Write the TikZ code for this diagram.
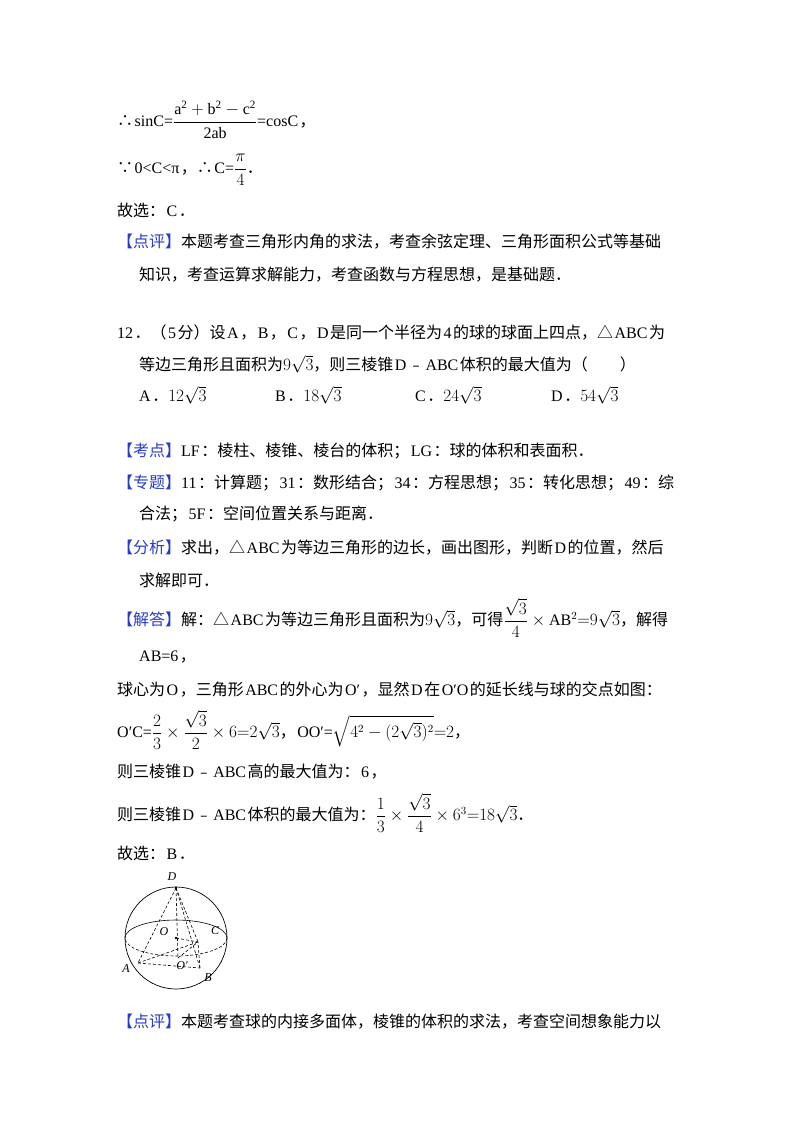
\documentclass[tikz,border=0pt]{standalone}
\usepackage{amsmath}
\usepackage{fontspec}
\setmainfont{Liberation Serif}
\newfontfamily\cjk{Noto Sans CJK SC}
\XeTeXinterchartokenstate=1
\newXeTeXintercharclass\CJKc
\count255="3000 \loop \XeTeXcharclass\count255=\CJKc \ifnum\count255<"9FFF \advance\count255 1 \repeat
\count255="FE30 \loop \XeTeXcharclass\count255=\CJKc \ifnum\count255<"FFEF \advance\count255 1 \repeat
\XeTeXcharclass"25B3=\CJKc
\XeTeXcharclass"2234=\CJKc
\XeTeXcharclass"2235=\CJKc
\XeTeXinterchartoks 0 \CJKc = {\hskip1.5pt\begingroup\cjk}
\XeTeXinterchartoks 4095 \CJKc = {\begingroup\cjk}
\XeTeXinterchartoks \CJKc 0 = {\endgroup\hskip1.5pt}
\XeTeXinterchartoks \CJKc 4095 = {\endgroup}
\definecolor{tagblue}{RGB}{40,60,200}
\newcommand{\tg}[1]{\textcolor{tagblue}{#1}}
\begin{document}
\begin{tikzpicture}[x=1pt,y=-1pt,
  ln/.style={anchor=west,inner sep=0pt,font=\fontsize{16}{18}\selectfont},
  lbl/.style={inner sep=0pt,font=\fontsize{12}{12}\selectfont\itshape},
  dl/.style={dashed,dash pattern=on 3pt off 2pt,line width=0.6pt}]
\useasboundingbox (0,0) rectangle (800,1132);
\fill[white] (0,0) rectangle (800,1132);
\node[ln] (l1) at (117,120) {∴sinC=$\dfrac{\mathrm{a^2+b^2-c^2}}{\mathrm{2ab}}$=cosC，};
\node[ln] (l2) at (117,170) {∵0<C<π，∴C=$\dfrac{\pi}{4}$．};
\node[ln] (l3) at (117,210) {故选：C．};
\node[ln] (l4) at (117,242) {\tg{【点评】}本题考查三角形内角的求法，考查余弦定理、三角形面积公式等基础};
\node[ln] (l5) at (139,275) {知识，考查运算求解能力，考查函数与方程思想，是基础题．};
\node[ln] (l6) at (117,333) {12．（5分）设A，B，C，D是同一个半径为4的球的球面上四点，△ABC为};
\node[ln] (l7) at (139,364) {等边三角形且面积为$9\sqrt{3}$，则三棱锥D﹣ABC体积的最大值为（　　）};
\node[ln] (oA) at (139,395) {A．$12\sqrt{3}$};
\node[ln] (oB) at (275,395) {B．$18\sqrt{3}$};
\node[ln] (oC) at (415,395) {C．$24\sqrt{3}$};
\node[ln] (oD) at (551,395) {D．$54\sqrt{3}$};
\node[ln] (l8) at (117,451) {\tg{【考点】}LF：棱柱、棱锥、棱台的体积；LG：球的体积和表面积．};
\node[ln] (l9) at (117,483) {\tg{【专题】}11：计算题；31：数形结合；34：方程思想；35：转化思想；49：综};
\node[ln] (l10) at (139,514) {合法；5F：空间位置关系与距离．};
\node[ln] (l11) at (117,548) {\tg{【分析】}求出，△ABC为等边三角形的边长，画出图形，判断D的位置，然后};
\node[ln] (l12) at (139,580) {求解即可．};
\node[ln] (l13) at (117,618) {\tg{【解答】}解：△ABC为等边三角形且面积为$9\sqrt{3}$，可得$\dfrac{\sqrt{3}}{4}\times\mathrm{AB}^2{=}9\sqrt{3}$，解得};
\node[ln] (l14) at (139,657) {AB=6，};
\node[ln] (l15) at (117,690) {球心为O，三角形ABC的外心为O′，显然D在O′O的延长线与球的交点如图：};
\node[ln] (l16) at (117,730) {O′C=$\dfrac{2}{3}\times\dfrac{\sqrt{3}}{2}\times6{=}2\sqrt{3}$，OO′=$\sqrt{4^2-(2\sqrt{3})^2}{=}2$，};
\node[ln] (l17) at (117,772) {则三棱锥D﹣ABC高的最大值为：6，};
\node[ln] (l18) at (117,813) {则三棱锥D﹣ABC体积的最大值为：$\dfrac{1}{3}\times\dfrac{\sqrt{3}}{4}\times6^3{=}18\sqrt{3}$．};
\node[ln] (l19) at (117,853) {故选：B．};
\node[ln] (l20) at (117,1022) {\tg{【点评】}本题考查球的内接多面体，棱锥的体积的求法，考查空间想象能力以};
% figure
\coordinate (O) at (176,938);
\coordinate (D) at (176,888);
\coordinate (A) at (138,963);
\coordinate (B) at (200,968);
\coordinate (C) at (198,942);
\coordinate (Op) at (178,958);
\draw[line width=0.7pt] (O) circle (51);
\draw[line width=0.6pt] (125,938) arc (180:360:51 and 18);
\draw[dl] (227,938) arc (0:180:51 and 18);
\fill (O) circle (1.3); \fill (D) circle (1.3);
\draw[dl] (D) -- (A); \draw[dl] (D) -- (B); \draw[dl] (D) -- (C); \draw[dl] (D) -- (Op);
\draw[dl] (A) -- (B); \draw[dl] (A) -- (C); \draw[dl] (B) -- (C);
\draw[dl] (O) -- (C); \draw[dl] (Op) -- (C);
\node[lbl] (tD) at (172,877) {D};
\node[lbl] (tO) at (164,932) {O};
\node[lbl] (tC) at (215,931) {C};
\node[lbl] (tA) at (126,969) {A};
\node[lbl] (tB) at (208,978) {B};
\node[lbl] (tOp) at (182,966) {O′};
\end{tikzpicture}
\end{document}
